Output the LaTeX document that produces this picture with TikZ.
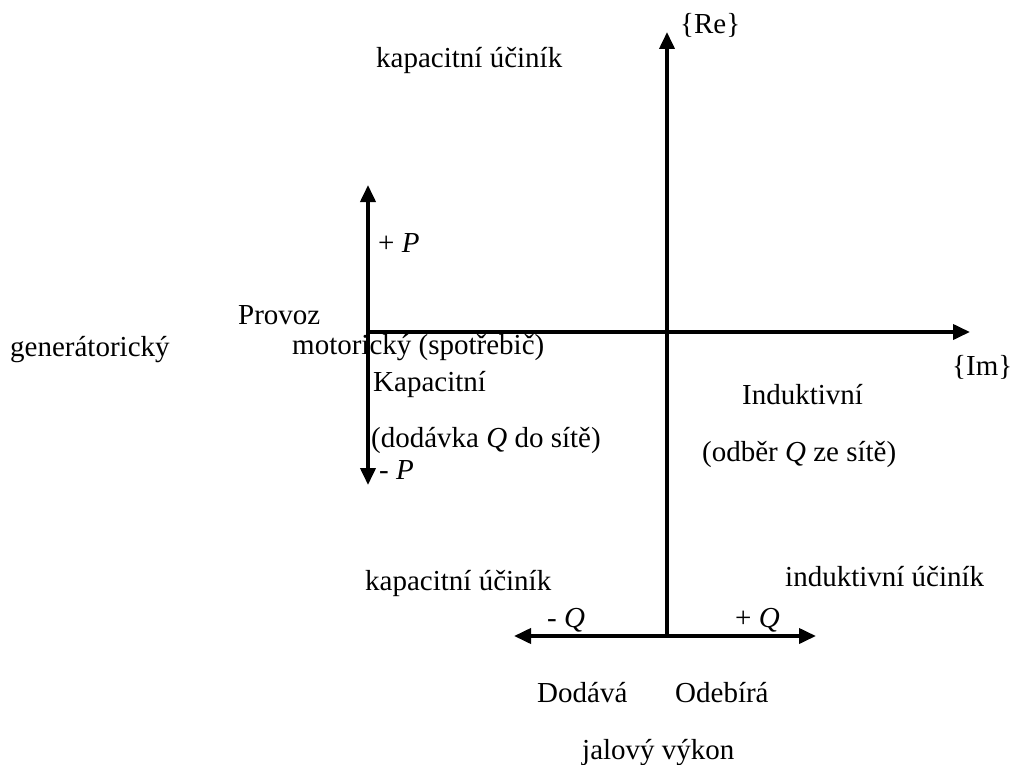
\documentclass[tikz,border=0pt]{standalone}
\usepackage{fontspec}
\setmainfont{Liberation Serif}
\usetikzlibrary{arrows.meta}
\begin{document}
\begin{tikzpicture}[x=1pt,y=-1pt,
  axis/.style={line width=3.8pt,-{Triangle[length=17pt,width=15pt]}},
  axisboth/.style={line width=3.8pt,{Triangle[length=17pt,width=15pt]}-{Triangle[length=17pt,width=15pt]}},
  lbl/.style={anchor=base west,inner sep=0pt,font=\fontsize{29}{34}\selectfont}]
\useasboundingbox (0,0) rectangle (1017,765);
% coordinates
\coordinate (O) at (667,332);
\coordinate (ReBot) at (667,636);
\coordinate (ReTop) at (667,32);
\coordinate (ImL) at (368,332);
\coordinate (ImR) at (970,332);
\coordinate (Ptop) at (368,185);
\coordinate (Pbot) at (368,485);
\coordinate (Ql) at (514,636);
\coordinate (Qr) at (816,636);
% axes
\draw[axis] (ReBot) -- (ReTop);
\draw[axis] (ImL) -- (ImR);
\draw[axisboth] (Pbot) -- (Ptop);
\draw[axisboth] (Ql) -- (Qr);
% labels
\node[lbl] (re) at (680,34) {\{Re\}};
\node[lbl] (kuTop) at (376,68) {kapacitní účiník};
\node[lbl] (pp) at (378,252) {+ \textit{P}};
\node[lbl] (provoz) at (238,324) {Provoz};
\node[lbl] (gen) at (10,356) {generátorický};
\node[lbl] (mot) at (292,354) {motorický (spotřebič)};
\node[lbl] (im) at (952,375) {\{Im\}};
\node[lbl] (kap) at (373,391) {Kapacitní};
\node[lbl] (ind) at (742,404) {Induktivní};
\node[lbl] (dod) at (371,447) {(dodávka \textit{Q} do sítě)};
\node[lbl] (odb) at (702,461) {(odběr \textit{Q} ze sítě)};
\node[lbl] (pm) at (379,479) {- \textit{P}};
\node[lbl] (kuBot) at (365,590) {kapacitní účiník};
\node[lbl] (iu) at (785,586) {induktivní účiník};
\node[lbl] (qm) at (547,627) {- \textit{Q}};
\node[lbl] (qp) at (735,627) {+ \textit{Q}};
\node[lbl] (dodava) at (537,702) {Dodává};
\node[lbl] (odebira) at (675,702) {Odebírá};
\node[lbl] (jal) at (582,759) {jalový výkon};
\end{tikzpicture}
\end{document}
